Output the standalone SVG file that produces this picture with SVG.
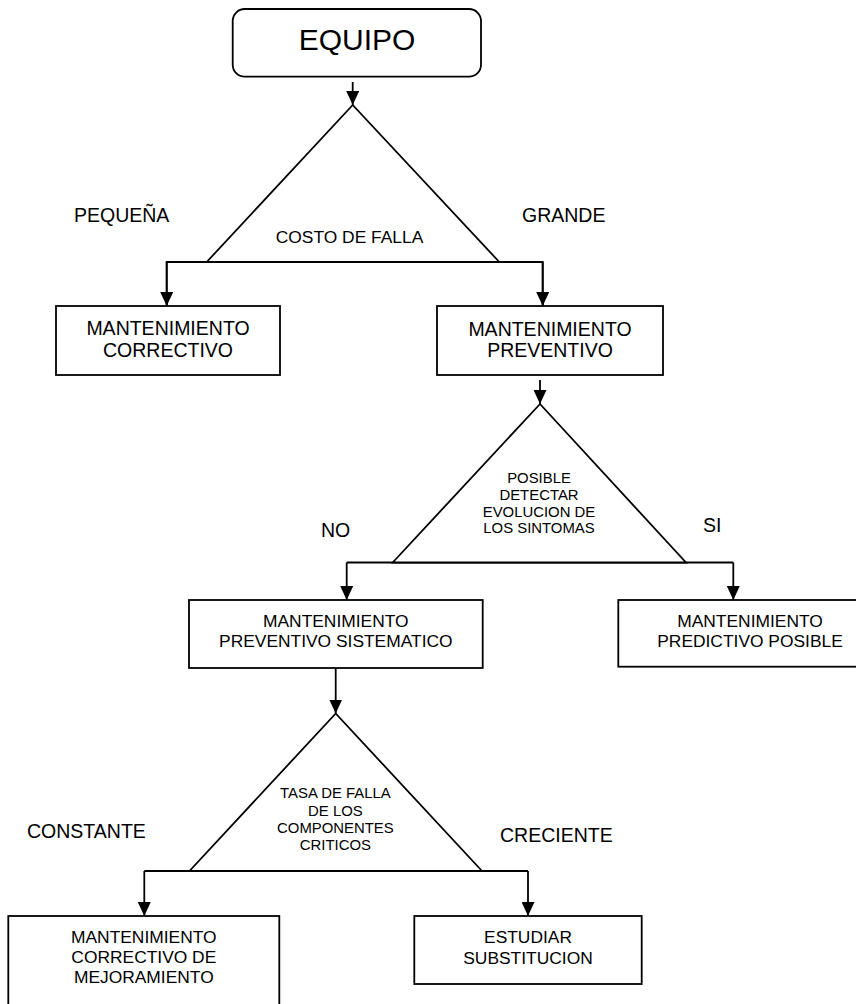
<svg xmlns="http://www.w3.org/2000/svg" width="856" height="1004" viewBox="0 0 856 1004">
<style>
.box{fill:#fff;stroke:#000;stroke-width:1.8}
.tri{fill:#fff;stroke:#000;stroke-width:1.8;stroke-linejoin:miter}
.ln{fill:none;stroke:#000;stroke-width:1.8}
text{font-family:"Liberation Sans",Arial,sans-serif;fill:#000;text-anchor:middle}
.big{font-size:30px}
.t1{font-size:19.5px}
.t2{font-size:17.4px}
.tt{font-size:14.9px}
.lbl{font-size:19.5px;text-anchor:start}
</style>
<defs>
<marker id="ah" viewBox="0 0 14 13" refX="14" refY="6.5" markerWidth="14" markerHeight="13" markerUnits="userSpaceOnUse" orient="auto">
<path d="M0,0 L14,6.5 L0,13 Z" fill="#000"/>
</marker>
</defs>
<rect width="856" height="1004" fill="#fff"/>
<g id="connectors">
<path class="ln" d="M352.7,82 V105" marker-end="url(#ah)"/>
<path class="ln" d="M166.7,306 V262 H542.7 V306" />
<path class="ln" d="M166.7,262 V306" marker-end="url(#ah)"/>
<path class="ln" d="M542.7,262 V306" marker-end="url(#ah)"/>
<path class="ln" d="M540,380 V404" marker-end="url(#ah)"/>
<path class="ln" d="M346.7,562.5 H733.3"/>
<path class="ln" d="M346.7,562.5 V600" marker-end="url(#ah)"/>
<path class="ln" d="M733.3,562.5 V600" marker-end="url(#ah)"/>
<path class="ln" d="M335.7,668 V713.5" marker-end="url(#ah)"/>
<path class="ln" d="M144.3,871 H528"/>
<path class="ln" d="M144.3,871 V916" marker-end="url(#ah)"/>
<path class="ln" d="M528,871 V916" marker-end="url(#ah)"/>
<text class="lbl" x="74" y="222">PEQUEÑA</text>
<text class="lbl" x="522" y="222">GRANDE</text>
<text class="lbl" x="321" y="537">NO</text>
<text class="lbl" x="703" y="532">SI</text>
<text class="lbl" x="27" y="838">CONSTANTE</text>
<text class="lbl" x="500" y="842">CRECIENTE</text>
</g>
<g id="equipo">
<rect class="box" x="232.7" y="9" width="248.3" height="67.7" rx="12"/>
<text class="big" x="357" y="50">EQUIPO</text>
</g>
<g id="costo-falla">
<polygon class="tri" points="352.7,105 206.7,262 499.3,262"/>
<path class="ln" d="M206.7,262 H499.3"/>
<text style="font-size:17.4px" x="349.5" y="243">COSTO DE FALLA</text>
</g>
<g id="mant-correctivo">
<rect class="box" x="56" y="306" width="224" height="69"/>
<text class="t1" x="168" y="335">MANTENIMIENTO</text>
<text class="t1" x="168" y="357">CORRECTIVO</text>
</g>
<g id="mant-preventivo">
<rect class="box" x="437" y="306" width="226" height="69"/>
<text class="t1" x="550" y="336">MANTENIMIENTO</text>
<text class="t1" x="550" y="357">PREVENTIVO</text>
</g>
<g id="detectar-evolucion">
<polygon class="tri" points="540,404 392.7,562.5 686,562.5"/>
<text class="tt" x="539" y="483">POSIBLE</text>
<text class="tt" x="539" y="500">DETECTAR</text>
<text class="tt" x="539" y="517">EVOLUCION DE</text>
<text class="tt" x="539" y="533">LOS SINTOMAS</text>
</g>
<g id="mant-preventivo-sistematico">
<rect class="box" x="189" y="600" width="293.7" height="68"/>
<text class="t2" x="335.8" y="626.7">MANTENIMIENTO</text>
<text class="t2" x="335.8" y="647.3">PREVENTIVO SISTEMATICO</text>
</g>
<g id="mant-predictivo">
<rect class="box" x="618.3" y="600" width="264" height="66.7"/>
<text class="t2" x="750" y="626.7">MANTENIMIENTO</text>
<text class="t2" x="750" y="647.3">PREDICTIVO POSIBLE</text>
</g>
<g id="tasa-falla">
<polygon class="tri" points="335.7,713.5 189.5,871 482,871"/>
<text class="tt" x="335.4" y="798">TASA DE FALLA</text>
<text class="tt" x="335.4" y="816">DE LOS</text>
<text class="tt" x="335.4" y="833">COMPONENTES</text>
<text class="tt" x="335.4" y="850">CRITICOS</text>
</g>
<g id="mant-correctivo-mejoramiento">
<rect class="box" x="8.3" y="916" width="271" height="100"/>
<text class="t2" x="143.8" y="942.7">MANTENIMIENTO</text>
<text class="t2" x="143.8" y="962.7">CORRECTIVO DE</text>
<text class="t2" x="143.8" y="982.7">MEJORAMIENTO</text>
</g>
<g id="estudiar-substitucion">
<rect class="box" x="414.3" y="916" width="227.4" height="68"/>
<text class="t2" x="528" y="943.3">ESTUDIAR</text>
<text class="t2" x="528" y="964">SUBSTITUCION</text>
</g>
</svg>
